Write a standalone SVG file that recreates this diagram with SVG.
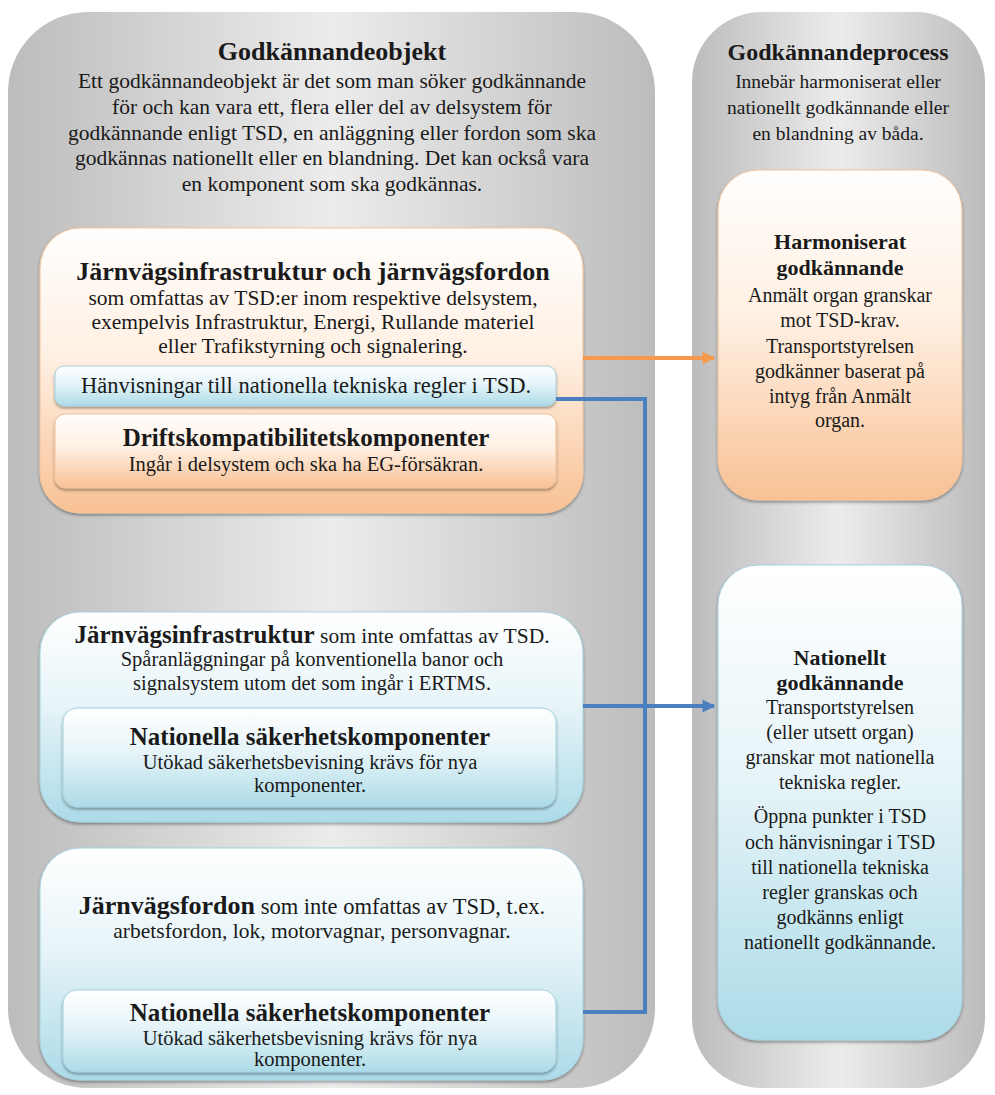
<svg xmlns="http://www.w3.org/2000/svg" width="995" height="1095" viewBox="0 0 995 1095" font-family="'Liberation Serif', 'Times New Roman', serif">
<defs>
<linearGradient id="gray" x1="0" y1="0" x2="1" y2="0">
<stop offset="0" stop-color="#bcbcbc"/><stop offset="0.5" stop-color="#ececec"/><stop offset="1" stop-color="#bcbcbc"/>
</linearGradient>
<linearGradient id="orange" x1="0" y1="0" x2="0" y2="1">
<stop offset="0" stop-color="#fffefd"/><stop offset="0.45" stop-color="#fff0e3"/><stop offset="1" stop-color="#f8c194"/>
</linearGradient>
<linearGradient id="blue" x1="0" y1="0" x2="0" y2="1">
<stop offset="0" stop-color="#ffffff"/><stop offset="0.45" stop-color="#e6f4f8"/><stop offset="1" stop-color="#acdbe8"/>
</linearGradient>
<filter id="sh" x="-5%" y="-5%" width="110%" height="115%">
<feDropShadow dx="0" dy="2" stdDeviation="1.5" flood-color="#000" flood-opacity="0.35"/>
</filter>
<marker id="ao" viewBox="0 0 10 10" refX="9" refY="5" markerWidth="3.2" markerHeight="3.2" orient="auto" markerUnits="strokeWidth"><path d="M0,0 L10,5 L0,10 z" fill="#f59a4c"/></marker>
<marker id="ab" viewBox="0 0 10 10" refX="9" refY="5" markerWidth="3.2" markerHeight="3.2" orient="auto" markerUnits="strokeWidth"><path d="M0,0 L10,5 L0,10 z" fill="#4a7fc0"/></marker>
</defs>
<style>
text{font-family:"Liberation Serif","Times New Roman",serif;fill:#1a1a1a;text-anchor:middle}
.t26{font-size:26px;font-weight:bold}
.t25{font-size:25px;font-weight:bold}
.t24{font-size:24px;font-weight:bold}
.t22{font-size:22px;font-weight:bold}
.b22{font-size:22.5px}
.b21{font-size:21.5px}
.b20{font-size:20.5px}
.b19{font-size:19.5px}
.rb{font-size:20px}
.panel{fill:url(#gray)}
.or{fill:url(#orange);stroke:#f2c49c;stroke-width:1;filter:url(#sh)}
.bl{fill:url(#blue);stroke:#a6d2df;stroke-width:1;filter:url(#sh)}
.cn{fill:none;stroke-width:4}
</style>
<rect width="995" height="1095" fill="#ffffff"/>
<g id="panel-objekt">
<rect class="panel" x="8" y="12" width="647" height="1076" rx="80"/>
<text class="t26" x="332" y="60">Godkännandeobjekt</text>
<text class="b21" x="332" y="88">Ett godkännandeobjekt är det som man söker godkännande</text>
<text class="b21" x="332" y="114">för och kan vara ett, flera eller del av delsystem för</text>
<text class="b21" x="332" y="140">godkännande enligt TSD, en anläggning eller fordon som ska</text>
<text class="b21" x="332" y="165">godkännas nationellt eller en blandning. Det kan också vara</text>
<text class="b21" x="332" y="191">en komponent som ska godkännas.</text>
</g>
<g id="panel-process">
<rect class="panel" x="692" y="12" width="293" height="1076" rx="70"/>
<text class="t24" x="838" y="60">Godkännandeprocess</text>
<text class="b19" x="838" y="88">Innebär harmoniserat eller</text>
<text class="b19" x="838" y="114">nationellt godkännande eller</text>
<text class="b19" x="838" y="140">en blandning av båda.</text>
</g>
<g id="tsd-infra-fordon">
<rect class="or" x="40" y="228" width="543" height="285" rx="40"/>
<text class="t26" x="313" y="280">Järnvägsinfrastruktur och järnvägsfordon</text>
<text class="b21" x="313" y="305">som omfattas av TSD:er inom respektive delsystem,</text>
<text class="b21" x="313" y="329">exempelvis Infrastruktur, Energi, Rullande materiel</text>
<text class="b21" x="313" y="353">eller Trafikstyrning och signalering.</text>
</g>
<g id="hanvisningar">
<rect class="bl" x="55" y="366" width="501" height="40" rx="9"/>
<text class="b22" x="306" y="393">Hänvisningar till nationella tekniska regler i TSD.</text>
</g>
<g id="driftskomp">
<rect class="or" x="55" y="414" width="501" height="74" rx="10"/>
<text class="t25" x="306" y="446">Driftskompatibilitetskomponenter</text>
<text class="b20" x="306" y="471">Ingår i delsystem och ska ha EG-försäkran.</text>
</g>
<g id="infra-ej-tsd">
<rect class="bl" x="40" y="612" width="543" height="210" rx="40"/>
<text class="b21" x="312" y="643"><tspan class="t25">Järnvägsinfrastruktur</tspan> som inte omfattas av TSD.</text>
<text class="b20" x="312" y="666">Spåranläggningar på konventionella banor och</text>
<text class="b20" x="312" y="690">signalsystem utom det som ingår i ERTMS.</text>
</g>
<g id="sak-komp-1">
<rect class="bl" x="63" y="708" width="493" height="99" rx="14"/>
<text class="t25" x="310" y="745">Nationella säkerhetskomponenter</text>
<text class="b20" x="310" y="769">Utökad säkerhetsbevisning krävs för nya</text>
<text class="b20" x="310" y="792">komponenter.</text>
</g>
<g id="fordon-ej-tsd">
<rect class="bl" x="40" y="848" width="543" height="232" rx="40"/>
<text style="font-size:22.5px" x="312" y="914"><tspan class="t26">Järnvägsfordon</tspan> som inte omfattas av TSD, t.ex.</text>
<text class="b21" x="312" y="938">arbetsfordon, lok, motorvagnar, personvagnar.</text>
</g>
<g id="sak-komp-2">
<rect class="bl" x="63" y="990" width="493" height="82" rx="14"/>
<text class="t25" x="310" y="1021">Nationella säkerhetskomponenter</text>
<text class="b20" x="310" y="1045">Utökad säkerhetsbevisning krävs för nya</text>
<text class="b20" x="310" y="1066">komponenter.</text>
</g>
<g id="harmoniserat">
<rect class="or" x="718" y="170" width="244" height="330" rx="40"/>
<text class="t22" x="840" y="249">Harmoniserat</text>
<text class="t22" x="840" y="275">godkännande</text>
<text class="rb" x="840" y="302">Anmält organ granskar</text>
<text class="rb" x="840" y="327">mot TSD-krav.</text>
<text class="rb" x="840" y="353">Transportstyrelsen</text>
<text class="rb" x="840" y="378">godkänner baserat på</text>
<text class="rb" x="840" y="403">intyg från Anmält</text>
<text class="rb" x="840" y="427">organ.</text>
</g>
<g id="nationellt">
<rect class="bl" x="718" y="565" width="244" height="475" rx="40"/>
<text class="t22" x="840" y="665">Nationellt</text>
<text class="t22" x="840" y="690">godkännande</text>
<text class="rb" x="840" y="714">Transportstyrelsen</text>
<text class="rb" x="840" y="739">(eller utsett organ)</text>
<text class="rb" x="840" y="764">granskar mot nationella</text>
<text class="rb" x="840" y="789">tekniska regler.</text>
<text class="rb" x="840" y="823">Öppna punkter i TSD</text>
<text class="rb" x="840" y="849">och hänvisningar i TSD</text>
<text class="rb" x="840" y="874">till nationella tekniska</text>
<text class="rb" x="840" y="899">regler granskas och</text>
<text class="rb" x="840" y="924">godkänns enligt</text>
<text class="rb" x="840" y="949">nationellt godkännande.</text>
</g>
<g id="connectors">
<path class="cn" d="M583,358 H714" stroke="#f59a4c" marker-end="url(#ao)"/>
<path class="cn" d="M556,399 H645 V1012 H583" stroke="#4a7fc0"/>
<path class="cn" d="M583,706 H714" stroke="#4a7fc0" marker-end="url(#ab)"/>
</g>
</svg>
